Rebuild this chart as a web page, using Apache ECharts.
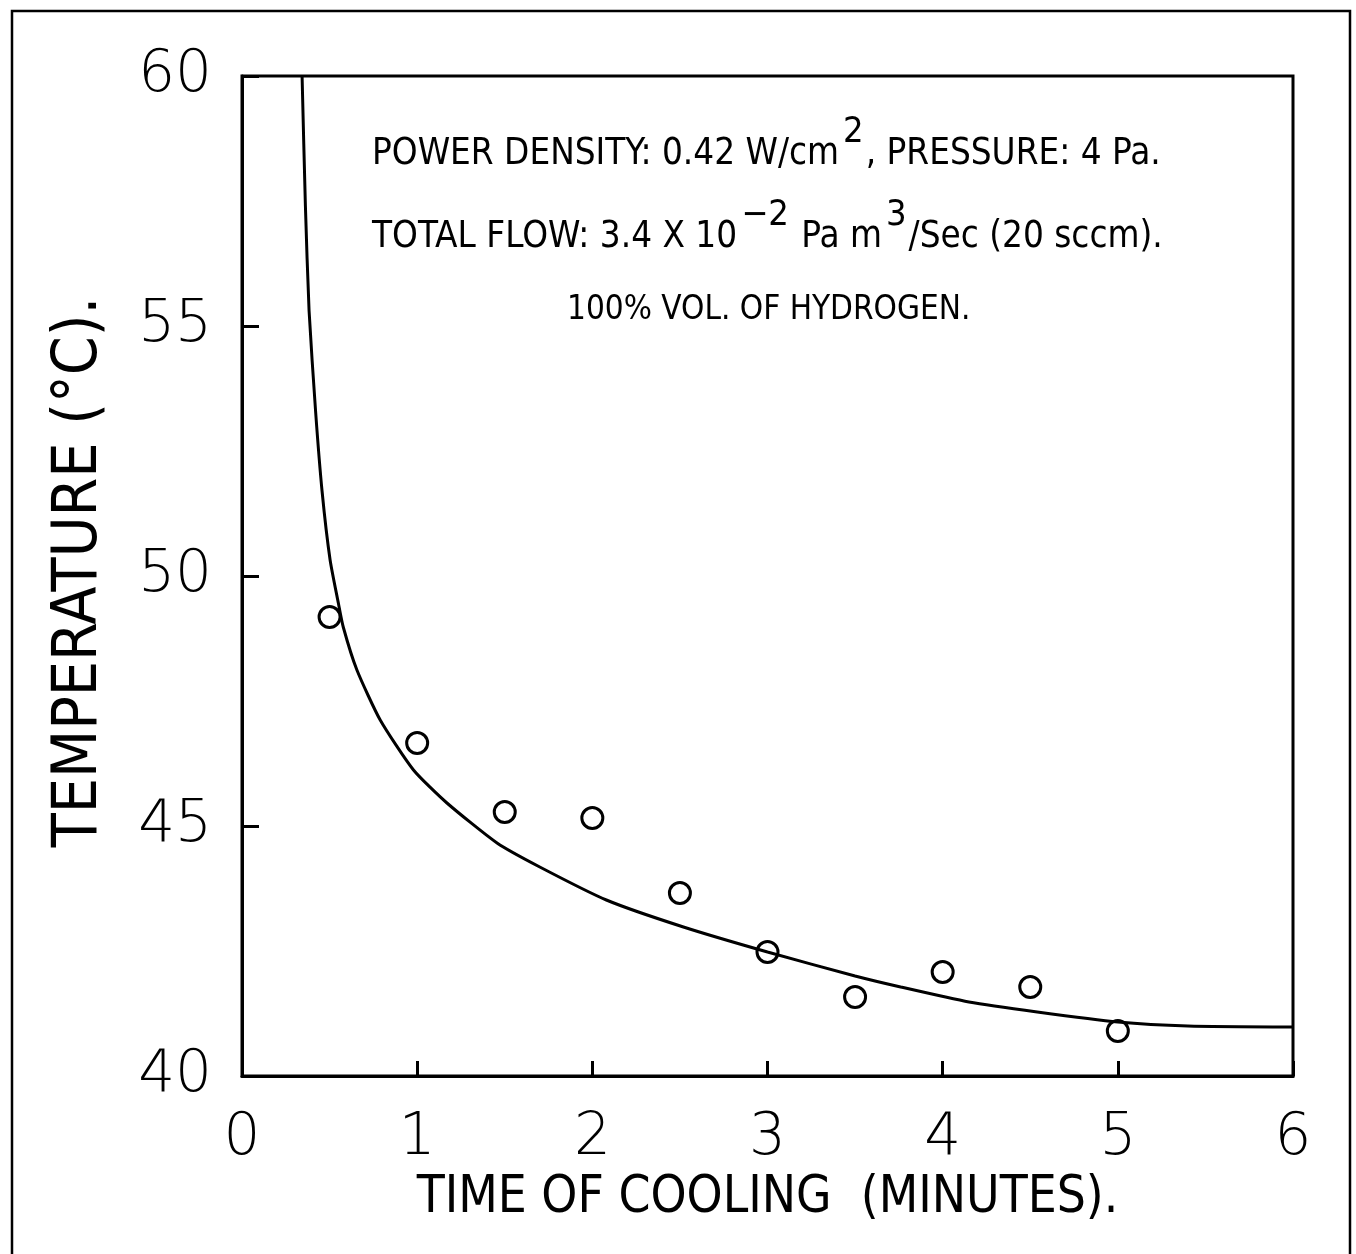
<!DOCTYPE html>
<html>
<head>
<meta charset="utf-8">
<style>
html,body{margin:0;padding:0;background:#fff;}
#chart{width:1356px;height:1254px;}
</style>
<script src="https://cdn.jsdelivr.net/npm/echarts@6/dist/echarts.min.js"></script>
</head>
<body>
<div id="chart"></div>
<script>
// Measured points (open circles)
const measuredTime = [0.5, 1.0, 1.5, 2.0, 2.5, 3.0, 3.5, 4.0, 4.5, 5.0];
const measuredTemp = [49.18, 46.66, 45.28, 45.16, 43.66, 42.48, 41.58, 42.08, 41.78, 40.9];

// Fitted cooling curve (solid line)
const fitTime = [0.343, 0.362, 0.383, 0.42, 0.457, 0.503, 0.55, 0.578, 0.656, 0.789, 0.979, 1.17, 1.456, 1.70, 2.08, 2.52, 3.0, 3.5, 3.76, 4.15, 4.54, 5.0, 5.4, 6.0];
const fitTemp = [60.0, 57.4, 55.3, 53.3, 51.7, 50.32, 49.46, 48.98, 48.12, 47.12, 46.12, 45.46, 44.66, 44.18, 43.52, 42.98, 42.48, 42.0, 41.78, 41.48, 41.28, 41.08, 41.0, 40.98];

// Axis ticks
const xTicks = [0, 1, 2, 3, 4, 5, 6];
const yTicks = [40, 45, 50, 55, 60];

const xTitle = 'TIME OF COOLING  (MINUTES).';
const yTitle = 'TEMPERATURE (°C).';
const note1 = '{n|POWER DENSITY: 0.42 W/cm}{s|2}{n|, PRESSURE: 4 Pa.}';
const note2 = '{n|TOTAL FLOW: 3.4 X 10}{s|\u22122}{n| Pa m}{s|3}{n|/Sec (20 sccm).}';
const note3 = '{m|100% VOL. OF HYDROGEN.}';

const tickFont = '"DejaVu Sans", "Liberation Sans", sans-serif';
const titleFont = '"Liberation Sans Narrow", "DejaVu Sans Condensed", "Liberation Sans", sans-serif';
const noteFont = '"Liberation Sans Narrow", "DejaVu Sans Condensed", "Liberation Sans", sans-serif';

const richNote = {
  n: {fontFamily: noteFont, fontSize: 36.5, lineHeight: 80, color: '#000', verticalAlign: 'middle'},
  m: {fontFamily: noteFont, fontSize: 33, lineHeight: 80, color: '#000', verticalAlign: 'middle'},
  s: {fontFamily: noteFont, fontSize: 36, lineHeight: 38, color: '#000', verticalAlign: 'top', padding: [0, 2, 0, 4]}
};

const chart = echarts.init(document.getElementById('chart'), null, {renderer: 'canvas'});
chart.setOption({
  backgroundColor: '#fff',
  animation: false,
  grid: {left: 242, right: 63, top: 76, bottom: 178, show: true, borderColor: '#000', borderWidth: 3, backgroundColor: 'transparent'},
  xAxis: {
    type: 'value', min: xTicks[0], max: xTicks[xTicks.length - 1], interval: 1,
    splitLine: {show: false},
    axisLine: {show: true, lineStyle: {color: '#000', width: 3}},
    axisTick: {show: true, inside: true, length: 15, lineStyle: {color: '#000', width: 3}},
    axisLabel: {color: '#000', fontFamily: tickFont, fontSize: 58, fontWeight: 200, margin: 34},
    name: xTitle, nameLocation: 'middle', nameGap: 92,
    nameTextStyle: {color: '#000', fontFamily: titleFont, fontSize: 51}
  },
  yAxis: {
    type: 'value', min: yTicks[0], max: yTicks[yTicks.length - 1], interval: 5,
    splitLine: {show: false},
    axisLine: {show: true, lineStyle: {color: '#000', width: 3}},
    axisTick: {show: true, inside: true, length: 17, lineStyle: {color: '#000', width: 3}},
    axisLabel: {color: '#000', fontFamily: tickFont, fontSize: 58, fontWeight: 200, margin: 30}
  },
  graphic: [
    {type: 'rect', shape: {x: 12, y: 11, width: 1338, height: 1270}, style: {fill: 'none', stroke: '#000', lineWidth: 2.5}, silent: true, z: -1},
    {type: 'text', x: 80, y: 572, rotation: Math.PI / 2,
      style: {text: yTitle, fontFamily: titleFont, fontSize: 62, fill: '#000', align: 'center', verticalAlign: 'middle'}},
    {type: 'text', x: 372, y: 155, style: {text: note1, rich: richNote, align: 'left', verticalAlign: 'middle', fill: '#000'}},
    {type: 'text', x: 372, y: 238, style: {text: note2, rich: richNote, align: 'left', verticalAlign: 'middle', fill: '#000'}},
    {type: 'text', x: 567, y: 310, style: {text: note3, rich: richNote, align: 'left', verticalAlign: 'middle', fill: '#000'}}
  ],
  series: [
    {
      type: 'line', name: 'fit', data: fitTime.map((t, i) => [t, fitTemp[i]]),
      showSymbol: false, smooth: 0.2, clip: true,
      lineStyle: {color: '#000', width: 3}
    },
    {
      type: 'scatter', name: 'measured', data: measuredTime.map((t, i) => [t, measuredTemp[i]]),
      symbol: 'circle', symbolSize: 21,
      itemStyle: {color: 'rgba(255,255,255,0)', borderColor: '#000', borderWidth: 3, opacity: 1}
    }
  ]
});
</script>
</body>
</html>
